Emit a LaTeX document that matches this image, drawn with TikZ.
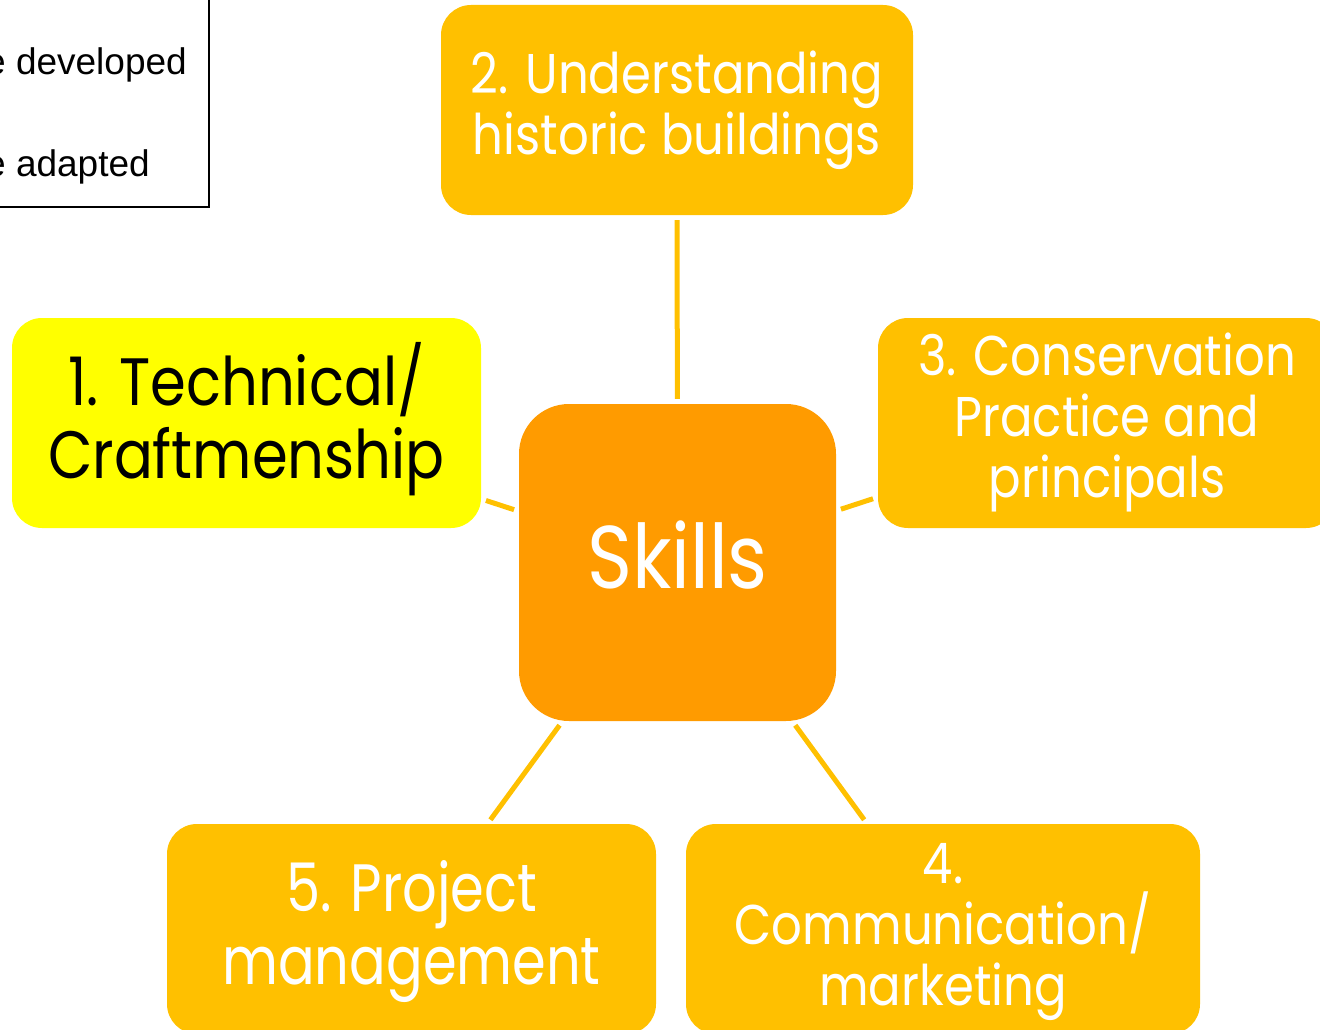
\documentclass[tikz,border=0pt]{standalone}
\usepackage{fontspec}
\setmainfont{Poppins}[FakeStretch=0.86]
\newfontfamily\arialfont{Liberation Sans}
\definecolor{gold}{HTML}{FFC000}
\definecolor{skillorange}{HTML}{FF9B00}
\definecolor{brightyellow}{HTML}{FFFF00}
\begin{document}
\begin{tikzpicture}[x=1pt,y=-1pt,
  skillbox/.style={rounded corners=30pt, inner sep=0pt},
  goldbox/.style={skillbox, fill=gold},
  boxtext/.style={align=center, inner sep=0pt, text=white},
  smalltext/.style={boxtext, font=\fontsize{56}{61}\selectfont},
  midtext/.style={boxtext, font=\fontsize{67}{73}\selectfont},
  conn/.style={draw=gold, line width=5pt, shorten <=5pt, shorten >=5pt},
  legendtext/.style={font=\arialfont\fontsize{37}{40}\selectfont, anchor=base west, inner sep=0pt}]
\useasboundingbox (0,0) rectangle (1320,1030);
\clip (0,0) rectangle (1320,1030);
% legend
\draw[black, line width=1.3pt] (-20,-20) rectangle (209,207);
\node[legendtext] (leg1) at (-15,75) {e developed};
\node[legendtext] (leg2) at (-15,176) {e adapted};
% boxes
\node[goldbox, minimum width=472pt, minimum height=210pt] (n2) at (677,110) {};
\node[smalltext] (n2t) at ([yshift=0pt]n2.center) {2. Understanding\\historic buildings};
\node[skillbox, fill=brightyellow, minimum width=469pt, minimum height=210pt] (n1) at (246.5,423) {};
\node[midtext, text=black] (n1t) at ([yshift=4pt]n1.center) {1. Technical/\\Craftmenship};
\node[goldbox, minimum width=458pt, minimum height=210pt] (n3) at (1107,423) {};
\node[smalltext] (n3t) at ([yshift=1pt]n3.center) {3. Conservation\\Practice and\\principals};
\node[goldbox, minimum width=489pt, minimum height=210pt] (n5) at (411.5,929) {};
\node[midtext, font=\addfontfeature{FakeStretch=0.81}\fontsize{67}{73}\selectfont] (n5t) at ([yshift=-3pt]n5.center) {5. Project\\management};
\node[goldbox, minimum width=514pt, minimum height=210pt] (n4) at (943,929) {};
\node[smalltext] (n4t) at ([yshift=-3pt]n4.center) {4.\\Communication/\\marketing};
\node[skillbox, rounded corners=50pt, fill=skillorange, minimum width=317pt, minimum height=317pt] (skills) at (677.5,562.5) {};
\node[boxtext, font=\fontsize{89}{95}\selectfont] (skillst) at ([yshift=7pt]skills.center) {Skills};
% connectors
\draw[conn] (skills) -- (n2);
\draw[conn] (skills) -- (n1);
\draw[conn] (skills) -- (n3);
\draw[conn] (skills) -- (n5);
\draw[conn] (skills) -- (n4);
\end{tikzpicture}
\end{document}
